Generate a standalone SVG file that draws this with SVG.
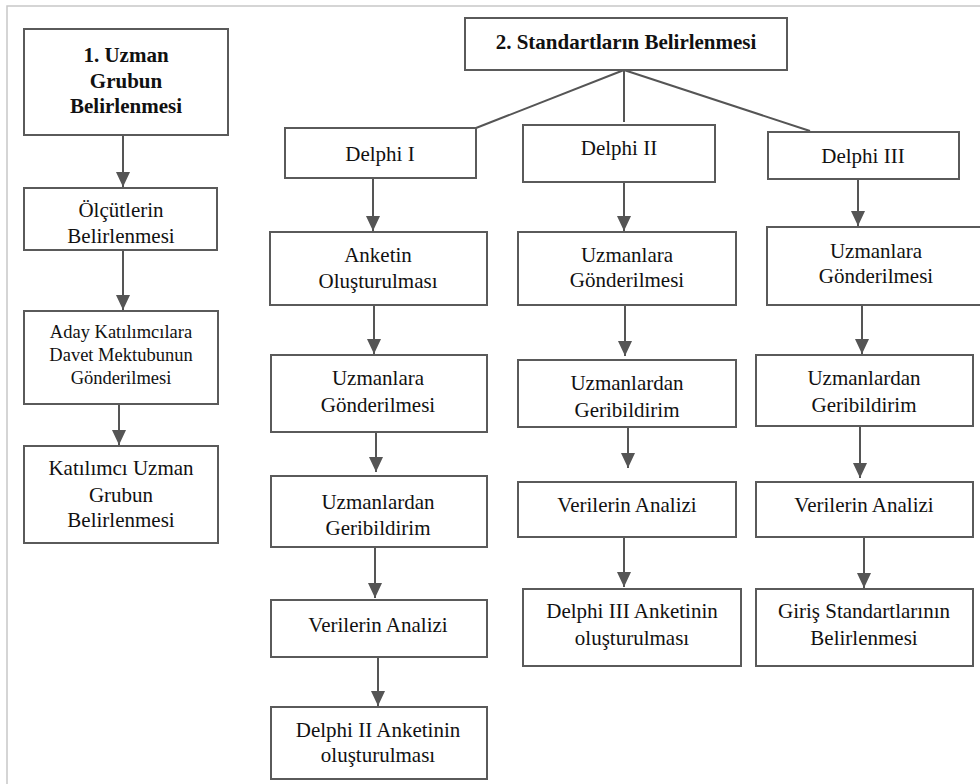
<svg xmlns="http://www.w3.org/2000/svg" width="980" height="784" viewBox="0 0 980 784">
<defs>
<marker id="ah" viewBox="0 0 15 14" refX="15" refY="7" markerWidth="15" markerHeight="14" markerUnits="userSpaceOnUse" orient="auto">
<path d="M0,0 L15,7 L0,14 z" fill="#555"/>
</marker>
<style>
.box{fill:#fff;stroke:#5a5a5a;stroke-width:2}
.ln{stroke:#555;stroke-width:2;fill:none}
.ar{stroke:#555;stroke-width:2;fill:none;marker-end:url(#ah)}
.b{font-weight:bold}
.s{font-size:18.5px}
</style>
</defs>
<rect x="0" y="0" width="980" height="784" fill="#fff"/>
<rect x="7" y="6" width="1000" height="800" fill="none" stroke="#c8c8c8" stroke-width="1.5"/>

<g id="connectors">
<line class="ln" x1="624" y1="70" x2="476" y2="128"/>
<line class="ln" x1="624" y1="70" x2="624" y2="122"/>
<line class="ln" x1="624" y1="70" x2="810" y2="131"/>
<line class="ar" x1="123" y1="135" x2="123" y2="187"/>
<line class="ar" x1="123" y1="250" x2="123" y2="310"/>
<line class="ar" x1="119" y1="404" x2="119" y2="445"/>
<line class="ar" x1="373" y1="178" x2="373" y2="231"/>
<line class="ar" x1="374" y1="305" x2="374" y2="354"/>
<line class="ar" x1="376" y1="432" x2="376" y2="472"/>
<line class="ar" x1="375" y1="547" x2="375" y2="598"/>
<line class="ar" x1="378" y1="657" x2="378" y2="706"/>
<line class="ar" x1="624" y1="182" x2="624" y2="231"/>
<line class="ar" x1="625" y1="305" x2="625" y2="356"/>
<line class="ar" x1="628" y1="427" x2="628" y2="468"/>
<line class="ar" x1="624" y1="537" x2="624" y2="587"/>
<line class="ar" x1="858" y1="179" x2="858" y2="226"/>
<line class="ar" x1="862" y1="305" x2="862" y2="354"/>
<line class="ar" x1="860" y1="426" x2="860" y2="478"/>
<line class="ar" x1="864" y1="537" x2="864" y2="588"/>
</g>

<g font-family="Liberation Serif, Times New Roman, serif" font-size="21" fill="#111" text-anchor="middle">
<g id="uzman-grubun">
<rect class="box" x="24" y="29" width="204" height="106"/>
<text class="b" x="126" y="62">1. Uzman</text>
<text class="b" x="126" y="88">Grubun</text>
<text class="b" x="126" y="113">Belirlenmesi</text>
</g>
<g id="olcutler">
<rect class="box" x="24" y="188" width="193" height="62"/>
<text x="121" y="217">Ölçütlerin</text>
<text x="121" y="243">Belirlenmesi</text>
</g>
<g id="davet">
<rect class="box" x="24" y="311" width="194" height="93"/>
<text class="s" x="121" y="338">Aday Katılımcılara</text>
<text class="s" x="121" y="361">Davet Mektubunun</text>
<text class="s" x="121" y="384">Gönderilmesi</text>
</g>
<g id="katilimci">
<rect class="box" x="24" y="446" width="194" height="97"/>
<text x="121" y="475">Katılımcı Uzman</text>
<text x="121" y="502">Grubun</text>
<text x="121" y="527">Belirlenmesi</text>
</g>

<g id="standartlar">
<rect class="box" x="465" y="18" width="322" height="52"/>
<text class="b" x="626" y="49">2. Standartların Belirlenmesi</text>
</g>

<g id="delphi1">
<rect class="box" x="285" y="128" width="191" height="50"/>
<text x="380" y="161">Delphi I</text>
</g>
<g id="d1-anket">
<rect class="box" x="270" y="232" width="217" height="73"/>
<text x="378" y="262">Anketin</text>
<text x="378" y="288">Oluşturulması</text>
</g>
<g id="d1-gonder">
<rect class="box" x="271" y="355" width="216" height="77"/>
<text x="378" y="385">Uzmanlara</text>
<text x="378" y="412">Gönderilmesi</text>
</g>
<g id="d1-geri">
<rect class="box" x="271" y="476" width="216" height="71"/>
<text x="378" y="509">Uzmanlardan</text>
<text x="378" y="535">Geribildirim</text>
</g>
<g id="d1-analiz">
<rect class="box" x="271" y="600" width="216" height="57"/>
<text x="378" y="632">Verilerin Analizi</text>
</g>
<g id="d1-sonuc">
<rect class="box" x="271" y="707" width="216" height="72"/>
<text x="378" y="737">Delphi II Anketinin</text>
<text x="378" y="762">oluşturulması</text>
</g>

<g id="delphi2">
<rect class="box" x="523" y="125" width="192" height="57"/>
<text x="619" y="155">Delphi II</text>
</g>
<g id="d2-gonder">
<rect class="box" x="518" y="232" width="218" height="73"/>
<text x="627" y="262">Uzmanlara</text>
<text x="627" y="287">Gönderilmesi</text>
</g>
<g id="d2-geri">
<rect class="box" x="518" y="360" width="218" height="67"/>
<text x="627" y="390">Uzmanlardan</text>
<text x="627" y="417">Geribildirim</text>
</g>
<g id="d2-analiz">
<rect class="box" x="518" y="482" width="218" height="55"/>
<text x="627" y="512">Verilerin Analizi</text>
</g>
<g id="d2-sonuc">
<rect class="box" x="523" y="589" width="218" height="77"/>
<text x="632" y="618">Delphi III Anketinin</text>
<text x="632" y="645">oluşturulması</text>
</g>

<g id="delphi3">
<rect class="box" x="768" y="132" width="191" height="47"/>
<text x="863" y="163">Delphi III</text>
</g>
<g id="d3-gonder">
<rect class="box" x="767" y="227" width="223" height="78"/>
<text x="876" y="258">Uzmanlara</text>
<text x="876" y="283">Gönderilmesi</text>
</g>
<g id="d3-geri">
<rect class="box" x="756" y="355" width="217" height="71"/>
<text x="864" y="385">Uzmanlardan</text>
<text x="864" y="412">Geribildirim</text>
</g>
<g id="d3-analiz">
<rect class="box" x="756" y="482" width="217" height="55"/>
<text x="864" y="512">Verilerin Analizi</text>
</g>
<g id="d3-sonuc">
<rect class="box" x="756" y="589" width="217" height="77"/>
<text x="864" y="618">Giriş Standartlarının</text>
<text x="864" y="645">Belirlenmesi</text>
</g>
</g>
</svg>
